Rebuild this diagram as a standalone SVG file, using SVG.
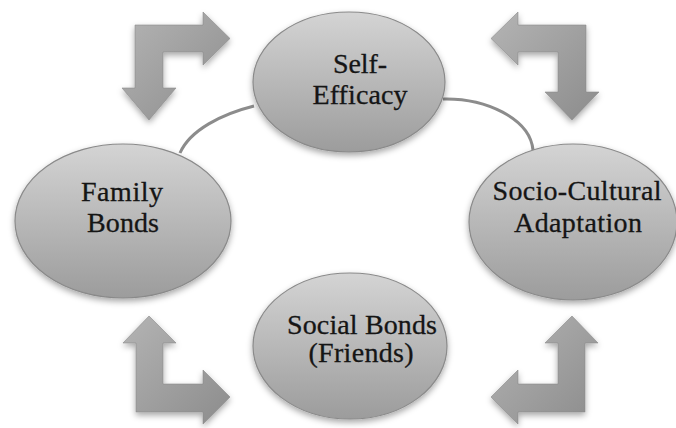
<svg xmlns="http://www.w3.org/2000/svg" width="676" height="428" viewBox="0 0 676 428">
<defs>
<linearGradient id="gEll" x1="0" y1="0" x2="0" y2="1">
<stop offset="0" stop-color="#d4d4d4"/>
<stop offset="1" stop-color="#9c9c9c"/>
</linearGradient>
<linearGradient id="gArr" x1="0" y1="0" x2="1" y2="1">
<stop offset="0" stop-color="#b4b4b4"/>
<stop offset="1" stop-color="#8c8c8c"/>
</linearGradient>
<filter id="sh" x="-20%" y="-20%" width="140%" height="150%">
<feDropShadow dx="0" dy="3" stdDeviation="3" flood-color="#000" flood-opacity="0.35"/>
</filter>
</defs>
<style>
.ell{fill:url(#gEll);stroke:#8a8a8a;stroke-width:1.2;filter:url(#sh)}
.arr{fill:url(#gArr);stroke:#8a8a8a;stroke-width:0.6;filter:url(#sh)}
.arc{fill:none;stroke:#8c8c8c;stroke-width:3}
.lbl{font-family:"Liberation Serif","Times New Roman",serif;font-size:28px;fill:#151515;text-anchor:middle;stroke:#151515;stroke-width:0.3}
</style>
<rect width="676" height="428" fill="#ffffff"/>
<g id="connectors">
<path class="arc" d="M254,106 C222,114 190,130 180,153"/>
<path class="arc" d="M443,99 C485,98 530,118 533,150"/>
<path class="arr" d="M135,25 L203,25 L203,12 L230,38.5 L203,65 L203,52 L163,52 L163,88 L176,88 L149,120 L122,88 L135,88 Z"/>
<path class="arr" d="M586,25 L518,25 L518,12 L491,38.5 L518,65 L518,52 L558,52 L558,92 L545,92 L572,120 L599,92 L586,92 Z"/>
<path class="arr" d="M136,412 L136,343 L123,343 L149,316 L176,343 L163,343 L163,384 L203,384 L203,370 L230,397 L203,424 L203,412 Z"/>
<path class="arr" d="M585,412 L585,343 L598,343 L572,316 L545,343 L558,343 L558,384 L518,384 L518,370 L491,397 L518,424 L518,412 Z"/>
</g>
<g id="self-efficacy">
<ellipse class="ell" cx="349" cy="82" rx="96" ry="70"/>
<text class="lbl" x="360" y="73" textLength="54">Self-</text>
<text class="lbl" x="360" y="104" textLength="95">Efficacy</text>
</g>
<g id="family-bonds">
<ellipse class="ell" cx="123" cy="221" rx="108" ry="77"/>
<text class="lbl" x="122" y="201" textLength="82">Family</text>
<text class="lbl" x="123" y="232" textLength="72">Bonds</text>
</g>
<g id="socio-cultural">
<ellipse class="ell" cx="573" cy="222" rx="104" ry="78"/>
<text class="lbl" x="577" y="200" textLength="169">Socio-Cultural</text>
<text class="lbl" x="578" y="232" textLength="128">Adaptation</text>
</g>
<g id="social-bonds">
<ellipse class="ell" cx="350" cy="346" rx="97" ry="73"/>
<text class="lbl" x="362" y="334" textLength="150">Social Bonds</text>
<text class="lbl" x="361" y="362" textLength="105">(Friends)</text>
</g>
</svg>
